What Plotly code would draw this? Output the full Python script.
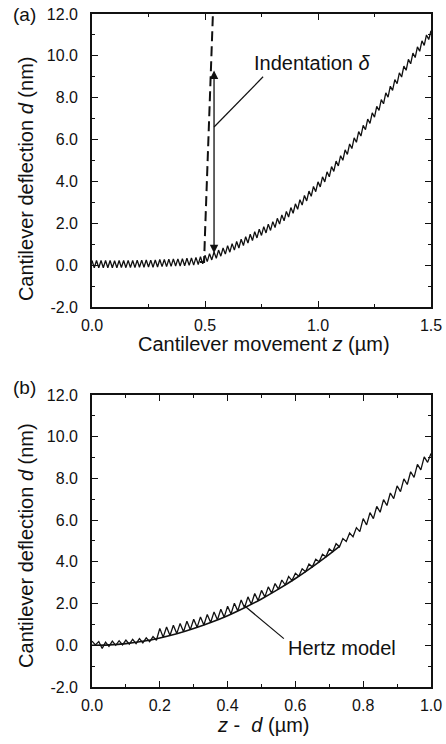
import plotly.graph_objects as go
from plotly.subplots import make_subplots

# ---------------- data ----------------
# Panel (a): cantilever deflection vs cantilever movement z (sampled every 0.01 um from 0)
z_start = 0.0
z_step = 0.01
deflection_a = [
    0.22, -0.12, 0.22, -0.12, 0.22, -0.12, 0.22, -0.12, 0.22, -0.12,
    0.21, -0.12, 0.22, -0.11, 0.22, -0.12, 0.23, -0.11, 0.22, -0.11,
    0.24, -0.10, 0.24, -0.10, 0.25, -0.09, 0.24, -0.10, 0.25, -0.09,
    0.27, -0.07, 0.27, -0.07, 0.28, -0.06, 0.30, -0.04, 0.30, -0.04,
    0.31, -0.03, 0.33, -0.01, 0.34, 0.00, 0.37, 0.03, 0.40, 0.06,
    0.47, 0.17, 0.55, 0.25, 0.63, 0.33, 0.72, 0.43, 0.82, 0.53,
    0.93, 0.62, 1.03, 0.72, 1.13, 0.82, 1.24, 0.94, 1.36, 1.06,
    1.48, 1.18, 1.60, 1.30, 1.72, 1.42, 1.84, 1.54, 1.96, 1.66,
    2.08, 1.80, 2.24, 1.96, 2.40, 2.12, 2.57, 2.30, 2.75, 2.48,
    2.93, 2.67, 3.13, 2.87, 3.33, 3.07, 3.54, 3.29, 3.76, 3.51,
    3.98, 3.74, 4.22, 3.98, 4.46, 4.22, 4.71, 4.48, 4.97, 4.74,
    5.23, 5.01, 5.51, 5.29, 5.79, 5.57, 6.08, 5.87, 6.38, 6.17,
    6.68, 6.47, 6.98, 6.77, 7.28, 7.07, 7.59, 7.39, 7.91, 7.71,
    8.23, 8.03, 8.55, 8.35, 8.87, 8.67, 9.19, 8.99, 9.51, 9.31,
    9.83, 9.62, 10.13, 9.92, 10.43, 10.22, 10.72, 10.50, 11.00, 10.78,
    11.20,
]
# dashed retract / contact guide in panel (a)
dash_z = [0.478, 0.496, 0.500, 0.510, 0.522, 0.535]
dash_d = [0.15, 0.15, 1.5, 4.5, 8.0, 12.0]

# Panel (b): deflection vs indentation z - d (sampled every 0.01 um from 0)
zd_start = 0.0
zd_step = 0.01
deflection_b = [
    0.20, 0.02, 0.18, -0.15, 0.15, -0.05, 0.20, 0.00, 0.22, 0.02,
    0.25, 0.05, 0.28, 0.08, 0.32, 0.12, 0.36, 0.17, 0.42, 0.24,
    0.81, 0.39, 0.88, 0.47, 0.96, 0.56, 1.05, 0.65, 1.15, 0.75,
    1.25, 0.86, 1.36, 0.97, 1.48, 1.09, 1.60, 1.22, 1.73, 1.35,
    1.87, 1.50, 2.02, 1.65, 2.17, 1.80, 2.32, 1.97, 2.48, 2.14,
    2.63, 2.32, 2.80, 2.50, 2.96, 2.69, 3.13, 2.89, 3.30, 3.10,
    3.45, 3.31, 3.67, 3.53, 3.89, 3.76, 4.12, 4.00, 4.36, 4.24,
    4.62, 4.49, 4.87, 4.72, 5.12, 4.98, 5.38, 5.20, 5.64, 5.45,
    6.07, 5.77, 6.36, 6.07, 6.66, 6.38, 6.98, 6.70, 7.30, 7.03,
    7.64, 7.37, 7.98, 7.71, 8.32, 8.05, 8.67, 8.41, 9.03, 8.77,
    9.20,
]
hertz_x = [0.00, 0.05, 0.10, 0.15, 0.20, 0.25, 0.30, 0.35, 0.40, 0.45,
           0.50, 0.55, 0.60, 0.65, 0.70, 0.73]
hertz_y = [0.00, 0.02, 0.08, 0.19, 0.35, 0.55, 0.80, 1.09, 1.42, 1.80,
           2.22, 2.69, 3.20, 3.76, 4.36, 4.74]

# ticks
xa_tickvals = [0.0, 0.5, 1.0, 1.5]
xa_ticktext = ["0.0", "0.5", "1.0", "1.5"]
xb_tickvals = [0.0, 0.2, 0.4, 0.6, 0.8, 1.0]
xb_ticktext = ["0.0", "0.2", "0.4", "0.6", "0.8", "1.0"]
y_tickvals = [-2, 0, 2, 4, 6, 8, 10, 12]
y_ticktext = ["-2.0", "0.0", "2.0", "4.0", "6.0", "8.0", "10.0", "12.0"]

# annotation anchors (data coordinates)
indent_arrow = dict(x=0.54, y_top=9.3, y_bot=0.5)
indent_leader = dict(x0=0.54, y0=6.6, x1=0.757, y1=9.0)
indent_text = dict(x=0.975, y=9.65)
hertz_leader = dict(x0=0.448, y0=1.92, x1=0.566, y1=0.32)
hertz_text = dict(x=0.737, y=-0.15)

FONT = "Liberation Sans, Arial, Helvetica, sans-serif"
BLACK = "#111111"

fig = make_subplots(rows=2, cols=1, vertical_spacing=0.0)

fig.add_trace(go.Scatter(x0=z_start, dx=z_step, y=deflection_a, mode="lines",
                         line=dict(color=BLACK, width=1.3), showlegend=False),
              row=1, col=1)
fig.add_trace(go.Scatter(x=dash_z, y=dash_d, mode="lines",
                         line=dict(color=BLACK, width=2, dash="10px,5px"),
                         showlegend=False), row=1, col=1)
fig.add_trace(go.Scatter(x0=zd_start, dx=zd_step, y=deflection_b, mode="lines",
                         line=dict(color=BLACK, width=1.3), showlegend=False),
              row=2, col=1)
fig.add_trace(go.Scatter(x=hertz_x, y=hertz_y, mode="lines",
                         line=dict(color=BLACK, width=1.6, shape="spline"),
                         showlegend=False), row=2, col=1)

axis_common = dict(showgrid=False, zeroline=False, showline=True, linecolor=BLACK,
                   linewidth=1.6, mirror="allticks", ticks="inside", ticklen=6,
                   tickwidth=1.3, tickcolor=BLACK, automargin=False,
                   tickfont=dict(family=FONT, size=16, color=BLACK))

fig.update_layout(
    template="none",
    width=446, height=744,
    margin=dict(l=92, r=15, t=14, b=57, autoexpand=False),
    paper_bgcolor="white", plot_bgcolor="white",
    font=dict(family=FONT, color=BLACK),
    xaxis=dict(axis_common, domain=[0, 1], range=[0, 1.5], tickmode="array",
               tickvals=xa_tickvals, ticktext=xa_ticktext, ticklabelstandoff=3,
               minor=dict(tickmode="linear", tick0=0, dtick=0.25, ticks="inside",
                          ticklen=3, tickwidth=1.2, tickcolor=BLACK)),
    yaxis=dict(axis_common, domain=[0.5646, 1], range=[-2, 12], tickmode="array",
               tickvals=y_tickvals, ticktext=y_ticktext, ticklabelstandoff=9,
               minor=dict(tickmode="linear", tick0=0, dtick=1, ticks="inside",
                          ticklen=3, tickwidth=1.2, tickcolor=BLACK)),
    xaxis2=dict(axis_common, domain=[0, 1], range=[0, 1.0], tickmode="array",
                tickvals=xb_tickvals, ticktext=xb_ticktext, ticklabelstandoff=3,
                minor=dict(tickmode="linear", tick0=0, dtick=0.1, ticks="inside",
                           ticklen=3, tickwidth=1.2, tickcolor=BLACK)),
    yaxis2=dict(axis_common, domain=[0, 0.4339], range=[-2, 12], tickmode="array",
                tickvals=y_tickvals, ticktext=y_ticktext, ticklabelstandoff=9,
                minor=dict(tickmode="linear", tick0=0, dtick=1, ticks="inside",
                           ticklen=3, tickwidth=1.2, tickcolor=BLACK)),
)

# leader lines
fig.add_shape(type="line", xref="x", yref="y", x0=indent_leader["x0"], y0=indent_leader["y0"],
              x1=indent_leader["x1"], y1=indent_leader["y1"], line=dict(color=BLACK, width=1.2))
fig.add_shape(type="line", xref="x2", yref="y2", x0=hertz_leader["x0"], y0=hertz_leader["y0"],
              x1=hertz_leader["x1"], y1=hertz_leader["y1"], line=dict(color=BLACK, width=1.2))

ann_font = dict(family=FONT, size=20, color=BLACK)
annotations = [
    # double-headed indentation arrow
    dict(x=indent_arrow["x"], y=indent_arrow["y_top"], ax=indent_arrow["x"],
         ay=indent_arrow["y_bot"], xref="x", yref="y", axref="x", ayref="y",
         text="", showarrow=True, arrowside="end+start", arrowhead=2,
         startarrowhead=2, arrowsize=1.3, startarrowsize=1.3, arrowwidth=1.3,
         arrowcolor=BLACK),
    dict(x=indent_text["x"], y=indent_text["y"], xref="x", yref="y",
         text="Indentation <i>δ</i>", showarrow=False, font=ann_font),
    dict(x=hertz_text["x"], y=hertz_text["y"], xref="x2", yref="y2",
         text="Hertz model", showarrow=False, font=ann_font),
    # panel labels
    dict(x=-0.20, y=1.0, xref="paper", yref="paper", text="(a)", showarrow=False,
         xanchor="center", yanchor="middle", font=dict(family=FONT, size=19, color=BLACK)),
    dict(x=-0.20, y=(687 - 387) / 673, xref="paper", yref="paper", text="(b)",
         showarrow=False, xanchor="center", yanchor="middle",
         font=dict(family=FONT, size=19, color=BLACK)),
    # axis titles
    dict(x=-0.195, y=0.756, xref="paper", yref="paper", textangle=-90,
         text="Cantilever deflection <i>d</i> (nm)", showarrow=False,
         xanchor="center", yanchor="middle", font=ann_font),
    dict(x=-0.195, y=0.211, xref="paper", yref="paper", textangle=-90,
         text="Cantilever deflection <i>d</i> (nm)", showarrow=False,
         xanchor="center", yanchor="middle", font=ann_font),
    dict(x=0.507, y=0.509, xref="paper", yref="paper",
         text="Cantilever movement <i>z</i> (µm)", showarrow=False,
         xanchor="center", yanchor="middle", font=ann_font),
    dict(x=0.507, y=-0.057, xref="paper", yref="paper",
         text="<i>z</i> -  <i>d</i> (µm)", showarrow=False,
         xanchor="center", yanchor="middle", font=ann_font),
]
fig.update_layout(annotations=annotations)

fig.write_html(
    "out.html",
    config={"displayModeBar": False},
    post_script="document.body.style.margin='0';document.body.style.overflow='hidden';",
)
